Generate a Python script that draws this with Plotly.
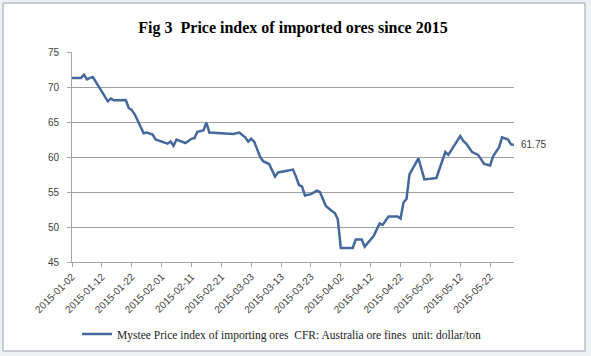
import plotly.graph_objects as go

dates = [
    "2015-01-02", "2015-01-05", "2015-01-06", "2015-01-07", "2015-01-08", "2015-01-09",
    "2015-01-14", "2015-01-15", "2015-01-16", "2015-01-20", "2015-01-21", "2015-01-22",
    "2015-01-23", "2015-01-26", "2015-01-27", "2015-01-29", "2015-01-30", "2015-02-02",
    "2015-02-03", "2015-02-04", "2015-02-05", "2015-02-06", "2015-02-09", "2015-02-11",
    "2015-02-12", "2015-02-13", "2015-02-15", "2015-02-16", "2015-02-17", "2015-02-25",
    "2015-02-27", "2015-03-01", "2015-03-02", "2015-03-03", "2015-03-04", "2015-03-06",
    "2015-03-07", "2015-03-09", "2015-03-11", "2015-03-12", "2015-03-17", "2015-03-18",
    "2015-03-19", "2015-03-20", "2015-03-21", "2015-03-23", "2015-03-25", "2015-03-26",
    "2015-03-28", "2015-03-30", "2015-03-31", "2015-04-01", "2015-04-02", "2015-04-06",
    "2015-04-07", "2015-04-09", "2015-04-10", "2015-04-13", "2015-04-15", "2015-04-16",
    "2015-04-18", "2015-04-21", "2015-04-22", "2015-04-23", "2015-04-24", "2015-04-25",
    "2015-04-26", "2015-04-28", "2015-04-30", "2015-05-04", "2015-05-07", "2015-05-08",
    "2015-05-12", "2015-05-13", "2015-05-14", "2015-05-15", "2015-05-16", "2015-05-18",
    "2015-05-19", "2015-05-20", "2015-05-22", "2015-05-23", "2015-05-25", "2015-05-26",
    "2015-05-28", "2015-05-29", "2015-05-30",
]
values = [
    71.3, 71.3, 71.75, 71.1, 71.3, 71.4,
    67.95, 68.35, 68.1, 68.15, 67.0, 66.7,
    66.1, 63.4, 63.5, 63.2, 62.5, 62.0,
    61.9, 62.2, 61.6, 62.5, 62.0, 62.6,
    62.7, 63.6, 63.8, 64.9, 63.5, 63.3,
    63.5, 62.8, 62.2, 62.6, 62.2, 60.0,
    59.4, 59.0, 57.2, 57.8, 58.2, 57.2,
    56.0, 55.8, 54.5, 54.7, 55.2, 55.0,
    53.0, 52.3, 52.0, 51.1, 47.0, 47.0,
    48.2, 48.2, 47.2, 48.7, 50.5, 50.3,
    51.5, 51.5, 51.2, 53.5, 54.0, 57.5,
    58.2, 59.8, 56.8, 57.0, 60.7, 60.3,
    63.0, 62.3, 61.9, 61.3, 60.7, 60.3,
    59.7, 59.0, 58.8, 60.1, 61.4, 62.8,
    62.5, 61.8, 61.75,
]
tick_labels = [
    "2015-01-02", "2015-01-12", "2015-01-22", "2015-02-01", "2015-02-11",
    "2015-02-21", "2015-03-03", "2015-03-13", "2015-03-23", "2015-04-02",
    "2015-04-12", "2015-04-22", "2015-05-02", "2015-05-12", "2015-05-22",
]
series_name = "Mystee Price index of importing ores  CFR: Australia ore fines  unit: dollar/ton"
title_text = "Fig 3  Price index of imported ores since 2015"
last_label = "61.75"

W, H = 591, 356
L, R, T, B = 72, 77, 52, 94
pw, ph = W - L - R, H - T - B

def px_x(p):
    return (p - L) / pw

def px_y(p):
    return (H - B - p) / ph

fig = go.Figure()
fig.add_trace(go.Scatter(
    x=dates, y=values, mode="lines", name=series_name,
    line=dict(color="#44679c", width=2.5),
))

fig.add_annotation(
    x=dates[-1], y=values[-1], xref="x", yref="y", text=last_label,
    showarrow=False, xanchor="left", xshift=5,
    font=dict(family="Liberation Sans, Arial", size=10, color="#404040"),
)

fig.add_shape(
    type="rect", xref="paper", yref="paper",
    x0=px_x(3), x1=px_x(585), y0=px_y(351), y1=px_y(3),
    line=dict(color="#9aa3ad", width=1), fillcolor="white", layer="below",
)

fig.update_layout(
    width=W, height=H,
    margin=dict(l=L, r=R, t=T, b=B, autoexpand=False),
    paper_bgcolor="#eef1f4",
    plot_bgcolor="white",
    title=dict(
        text="<b>" + title_text + "</b>",
        x=0.5, xref="paper", xanchor="center",
        y=1 - 27 / H, yanchor="middle",
        font=dict(family="Liberation Serif, Times New Roman", size=16, color="black"),
    ),
    showlegend=True,
    legend=dict(
        orientation="h", x=px_x(77), xanchor="left", xref="paper",
        y=px_y(334), yanchor="middle",
        font=dict(family="Liberation Serif, Times New Roman", size=11.5, color="#222222"),
        bgcolor="rgba(0,0,0,0)", itemwidth=30,
    ),
    xaxis=dict(
        type="date",
        range=["2015-01-02", "2015-05-30"],
        tickvals=tick_labels, ticktext=tick_labels,
        tickangle=-45, automargin=False,
        tickfont=dict(family="Liberation Sans, Arial", size=10, color="#404040"),
        showgrid=False, zeroline=False,
        showline=True, linecolor="#a6a6a6", linewidth=1,
        ticks="outside", ticklen=4, tickcolor="#a6a6a6",
    ),
    yaxis=dict(
        range=[45, 75], dtick=5, tick0=45, automargin=False,
        tickfont=dict(family="Liberation Sans, Arial", size=10, color="#404040"),
        ticklabelstandoff=6,
        showgrid=True, gridcolor="#a0a0a0", gridwidth=1,
        zeroline=False,
        showline=True, linecolor="#a6a6a6", linewidth=1,
        ticks="outside", ticklen=4, tickcolor="#a6a6a6",
    ),
)

fig.write_html(
    "out.html",
    config={"displayModeBar": False},
    post_script="document.body.style.margin='0';",
)
